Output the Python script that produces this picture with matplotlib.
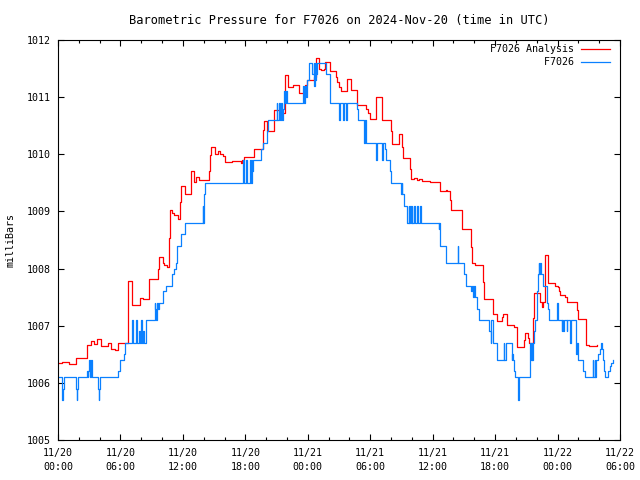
import datetime as dt
import matplotlib
matplotlib.use("Agg")
import matplotlib.pyplot as plt

# hours since 2024-11-20 00:00 UTC, pressure in mb (step values)
analysis_hours = [0.0, 0.4, 1.06, 1.7, 2.75, 3.2, 3.5, 3.7, 4.1, 4.8, 5.1, 5.5, 5.8,
                  6.75, 7.1, 7.15, 7.9, 8.2, 8.74, 9.6, 9.7, 10.05, 10.2, 10.5, 10.7,
                  10.75, 11.0, 11.1, 11.5, 11.7, 11.8, 12.2, 12.75, 12.8, 13.06, 13.3,
                  13.5, 14.5, 14.6, 14.7, 15.1, 15.4, 15.56, 15.9, 16.0, 16.7, 17.6,
                  17.65, 17.9, 18.8, 19.7, 19.8, 20.1, 20.8, 21.3, 21.8, 22.06, 22.6,
                  23.15, 23.7, 23.95, 24.6, 24.8, 25.07, 25.3, 25.6, 25.7, 26.1, 26.7,
                  26.8, 27.0, 27.15, 27.8, 28.15, 28.75, 29.6, 29.8, 29.95, 30.6, 31.1,
                  32.0, 32.05, 32.8, 33.1, 33.15, 33.8, 33.9, 34.2, 34.5, 34.7, 35.0,
                  35.3, 35.7, 36.7, 37.3, 37.4, 37.7, 37.8, 38.8, 39.7, 39.75, 40.1,
                  40.86, 40.95, 41.75, 42.14, 42.7, 42.78, 43.16, 43.8, 44.06, 44.12,
                  44.77, 44.86, 45.18, 45.28, 45.66, 45.75, 46.3, 46.46, 46.6, 46.78,
                  47.04, 47.1, 47.74, 48.0, 48.16, 48.2, 48.7, 48.86, 49.9, 49.95,
                  50.72, 50.78, 51.0, 51.6, 51.75]
analysis_mb = [1006.35, 1006.37, 1006.33, 1006.44, 1006.67, 1006.73, 1006.68, 1006.76,
               1006.64, 1006.69, 1006.59, 1006.57, 1006.70, 1007.79, 1007.57, 1007.36,
               1007.49, 1007.46, 1007.81, 1007.99, 1008.20, 1008.10, 1008.06, 1008.03,
               1008.53, 1009.02, 1008.98, 1008.94, 1008.86, 1009.17, 1009.44, 1009.30,
               1009.49, 1009.70, 1009.52, 1009.60, 1009.55, 1009.70, 1009.99, 1010.13,
               1010.00, 1010.06, 1010.00, 1009.97, 1009.87, 1009.89, 1009.84, 1009.90,
               1009.96, 1010.09, 1010.42, 1010.59, 1010.40, 1010.77, 1010.72, 1011.39,
               1011.18, 1011.21, 1011.08, 1011.21, 1011.30, 1011.35, 1011.68, 1011.50,
               1011.48, 1011.50, 1011.62, 1011.45, 1011.36, 1011.27, 1011.18, 1011.10,
               1011.31, 1011.12, 1010.86, 1010.80, 1010.72, 1010.61, 1011.00, 1010.60,
               1010.40, 1010.18, 1010.35, 1010.13, 1009.94, 1009.75, 1009.56, 1009.58,
               1009.55, 1009.57, 1009.54, 1009.53, 1009.52, 1009.35, 1009.37, 1009.35,
               1009.20, 1009.02, 1008.70, 1008.38, 1008.09, 1008.06, 1007.77, 1007.46,
               1007.20, 1007.09, 1007.15, 1007.21, 1007.01, 1006.98, 1006.81, 1006.62,
               1006.75, 1006.88, 1006.78, 1006.69, 1007.13, 1007.57, 1007.42, 1007.33,
               1007.42, 1008.24, 1008.00, 1007.74, 1007.70, 1007.68, 1007.60, 1007.54,
               1007.50, 1007.42, 1007.27, 1007.11, 1006.87, 1006.66, 1006.64, 1006.64,
               1006.67]

station_hours = [0.0, 0.35, 0.42, 0.5, 0.6, 1.7, 1.78, 1.86, 1.95, 2.75, 2.85, 2.9, 3.0,
                 3.1, 3.15, 3.25, 3.85, 3.9, 3.97, 4.02, 5.75, 6.0, 6.3, 6.45, 7.1, 7.2,
                 7.5, 7.6, 7.75, 7.85, 7.95, 8.05, 8.2, 8.3, 8.5, 9.3, 9.35, 9.45, 9.55,
                 9.6, 9.7, 10.1, 10.4, 11.0, 11.17, 11.3, 11.4, 11.8, 12.2, 13.9, 13.95,
                 14.0, 14.05, 14.15, 17.8, 17.85, 18.1, 18.2, 18.45, 18.5, 18.6, 18.65,
                 18.75, 18.8, 19.5, 19.66, 20.05, 20.2, 21.0, 21.05, 21.2, 21.3, 21.45,
                 21.5, 21.6, 21.75, 21.85, 21.9, 22.0, 23.5, 23.6, 23.7, 23.8, 23.9,
                 24.15, 24.4, 24.55, 24.6, 24.65, 24.7, 24.75, 24.8, 24.85, 25.75, 26.15,
                 27.0, 27.1, 27.35, 27.45, 27.7, 27.8, 28.7, 28.85, 29.45, 29.5, 29.55,
                 30.55, 30.65, 31.15, 31.25, 31.4, 31.5, 31.9, 31.96, 33.0, 33.05, 33.1,
                 33.2, 33.5, 33.55, 33.7, 33.75, 33.8, 33.9, 34.0, 34.05, 34.2, 34.3,
                 34.5, 34.55, 34.8, 34.85, 36.6, 36.65, 36.7, 36.75, 37.3, 38.4, 38.45,
                 39.0, 39.2, 39.7, 39.8, 39.9, 40.0, 40.06, 40.3, 40.45, 41.43, 41.56,
                 41.65, 41.75, 42.2, 42.84, 42.9, 43.04, 43.58, 43.65, 43.7, 43.83,
                 43.93, 44.16, 44.22, 44.28, 45.4, 45.45, 45.5, 45.55, 45.6, 45.7, 45.82,
                 45.98, 46.04, 46.14, 46.2, 46.25, 46.3, 46.4, 46.56, 47.0, 47.1, 47.2,
                 47.9, 48.0, 48.38, 48.45, 48.55, 48.6, 48.9, 48.95, 49.2, 49.3, 49.76,
                 49.82, 49.9, 49.98, 50.46, 50.62, 51.36, 51.42, 51.55, 51.6, 51.74,
                 51.9, 52.05, 52.2, 52.3, 52.4, 52.5, 52.55, 52.86, 53.0, 53.15, 53.3]
station_mb = [1006.1, 1005.9, 1005.7, 1005.9, 1006.1, 1005.9, 1005.7, 1005.9, 1006.1,
              1006.2, 1006.1, 1006.2, 1006.4, 1006.1, 1006.4, 1006.1, 1005.9, 1005.7,
              1005.9, 1006.1, 1006.2, 1006.4, 1006.5, 1006.7, 1007.1, 1006.7, 1007.1,
              1006.7, 1006.9, 1006.7, 1007.1, 1006.7, 1006.9, 1006.7, 1007.1, 1007.4,
              1007.3, 1007.1, 1007.4, 1007.3, 1007.4, 1007.6, 1007.7, 1007.9, 1008.0,
              1008.1, 1008.4, 1008.6, 1008.8, 1009.1, 1008.8, 1009.1, 1009.3, 1009.5,
              1009.9, 1009.5, 1009.9, 1009.5, 1009.9, 1009.5, 1009.9, 1009.7, 1009.9,
              1009.9, 1010.1, 1010.2, 1010.4, 1010.6, 1010.9, 1010.6, 1010.9, 1010.6,
              1010.9, 1010.6, 1010.8, 1011.1, 1010.9, 1011.1, 1010.9, 1011.2, 1010.9,
              1011.2, 1011.0, 1011.3, 1011.6, 1011.4, 1011.6, 1011.2, 1011.6, 1011.3,
              1011.6, 1011.4, 1011.6, 1011.4, 1010.9, 1010.6, 1010.9, 1010.6, 1010.9,
              1010.6, 1010.9, 1010.8, 1010.6, 1010.2, 1010.6, 1010.2, 1009.9, 1010.2,
              1009.9, 1010.2, 1010.1, 1009.9, 1009.7, 1009.5, 1009.3, 1009.5, 1009.3,
              1009.1, 1008.9, 1008.8, 1009.1, 1008.8, 1009.1, 1008.8, 1009.1, 1008.8,
              1009.1, 1008.8, 1009.1, 1008.8, 1009.1, 1008.8, 1008.7, 1008.8, 1008.6,
              1008.4, 1008.1, 1008.4, 1008.1, 1007.9, 1007.7, 1007.6, 1007.7, 1007.5,
              1007.7, 1007.5, 1007.3, 1007.1, 1006.9, 1006.7, 1007.1, 1006.7, 1006.4,
              1006.7, 1006.4, 1006.7, 1006.4, 1006.5, 1006.4, 1006.2, 1006.1, 1005.9,
              1005.7, 1006.1, 1006.7, 1006.4, 1006.7, 1006.4, 1006.7, 1006.9, 1007.1,
              1007.3, 1007.6, 1007.9, 1008.1, 1007.9, 1008.1, 1007.9, 1007.7, 1007.4,
              1007.3, 1007.1, 1007.4, 1007.1, 1006.9, 1007.1, 1006.9, 1007.1, 1006.9,
              1007.1, 1006.7, 1007.1, 1006.7, 1006.5, 1006.7, 1006.4, 1006.2, 1006.1,
              1006.4, 1006.1, 1006.4, 1006.1, 1006.4, 1006.5, 1006.6, 1006.7, 1006.6,
              1006.4, 1006.2, 1006.1, 1006.2, 1006.3, 1006.35, 1006.4]

start = dt.datetime(2024, 11, 20)
tick_hours = list(range(0, 55, 6))
tick_labels = [(start + dt.timedelta(hours=h)).strftime("%m/%d\n%H:%M") for h in tick_hours]

plt.rcParams['font.family'] = ['DejaVu Sans Mono']
plt.rcParams['font.size'] = 7.2

fig = plt.figure(figsize=(6.4, 4.8), dpi=100)
ax = fig.add_axes([58 / 640, 40 / 480, 562 / 640, 400 / 480])

labels = ["F7026 Analysis", "F7026"]
w = max(len(s) for s in labels)
ax.plot(analysis_hours, analysis_mb, drawstyle='steps-post', color='#ff0000',
        lw=0.9, label=labels[0].rjust(w))
ax.plot(station_hours, station_mb, drawstyle='steps-post', color='#0a80ff',
        lw=0.9, label=labels[1].rjust(w))

ax.set_xlim(0, 54)
ax.set_ylim(1005, 1012)
ax.set_xticks(tick_hours)
ax.set_xticklabels(tick_labels, linespacing=1.55)
ax.set_xticks(range(0, 55, 2), minor=True)
ax.set_yticks(range(1005, 1013))

ax.tick_params(which='both', direction='in', top=True, right=True, width=0.8)
ax.tick_params(which='major', length=4)
ax.tick_params(which='minor', length=2)
ax.tick_params(axis='x', pad=5.5)
ax.tick_params(axis='y', pad=5)
for s in ax.spines.values():
    s.set_linewidth(0.8)

ax.set_ylabel("milliBars", labelpad=8)
ax.set_title("Barometric Pressure for F7026 on 2024-Nov-20 (time in UTC)", pad=11.5)

ax.legend(loc='upper right', bbox_to_anchor=(0.991, 1.0), frameon=False,
          markerfirst=False, borderaxespad=0, borderpad=0.45, labelspacing=0.3,
          handlelength=2.9, handletextpad=0.7)

fig.savefig("out.png", dpi=100)
